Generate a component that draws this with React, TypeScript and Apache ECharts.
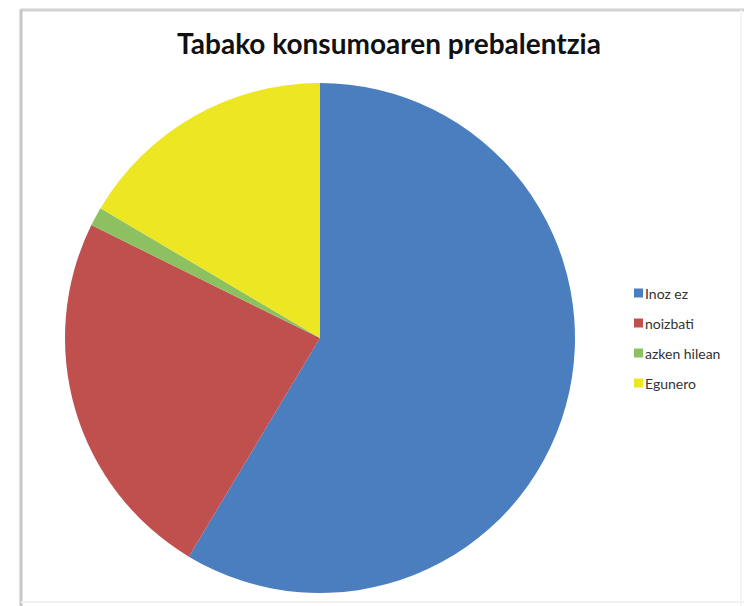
import React, { useEffect, useRef } from "react";
import * as echarts from "echarts";

const categories = ["Inoz ez", "noizbati", "azken hilean", "Egunero"];
const values = [58.6, 23.7, 1.2, 16.5];
const colors = ["#4A7EBF", "#C0504D", "#8CC060", "#EDE723"];
const titleText = "Tabako konsumoaren prebalentzia";

export default function App() {
  const ref = useRef<HTMLDivElement>(null);
  useEffect(() => {
    if (!ref.current) return;
    const chart = echarts.init(ref.current, undefined, { renderer: "svg" });
    chart.setOption({
      animation: false,
      backgroundColor: "#ffffff",
      title: {
        text: titleText,
        left: 384,
        top: 24,
        textAlign: "center",
        textStyle: {
          fontFamily: "Lato",
          fontWeight: "bold",
          fontSize: 28,
          color: "#111111",
        },
      },
      legend: {
        orient: "vertical",
        left: 629,
        top: 281,
        icon: "rect",
        itemWidth: 9,
        itemHeight: 9,
        itemGap: 16,
        data: categories,
        textStyle: {
          fontFamily: "Lato",
          fontSize: 14,
          color: "#333333",
          padding: [0, 0, 0, -3],
        },
      },
      graphic: [
        { type: "line", shape: { x1: 21, y1: 10, x2: 744, y2: 10 }, style: { stroke: "#d2d2d2", lineWidth: 3 } },
        { type: "line", shape: { x1: 21, y1: 9, x2: 21, y2: 606 }, style: { stroke: "#c8c8c8", lineWidth: 3 } },
        { type: "line", shape: { x1: 21, y1: 602, x2: 744, y2: 602 }, style: { stroke: "#f2f2f2", lineWidth: 2 } },
        { type: "line", shape: { x1: 741, y1: 10, x2: 741, y2: 606 }, style: { stroke: "#f4f4f4", lineWidth: 2 } },
      ],
      series: [
        {
          type: "pie",
          center: [320, 338],
          radius: 255,
          startAngle: 90,
          clockwise: true,
          label: { show: false },
          labelLine: { show: false },
          emphasis: { disabled: true },
          itemStyle: { borderWidth: 0 },
          data: categories.map((name, i) => ({
            name,
            value: values[i],
            itemStyle: { color: colors[i] },
          })),
        },
      ],
    });
    return () => chart.dispose();
  }, []);
  return (
    <div
      ref={ref}
      style={{ position: "absolute", left: 0, top: 0, width: 744, height: 606 }}
    />
  );
}
